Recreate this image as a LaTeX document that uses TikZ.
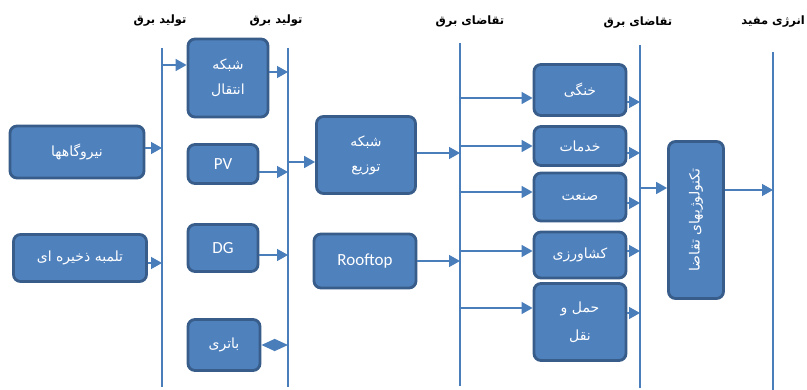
\documentclass[tikz,border=0pt]{standalone}
\usepackage{fontspec}
\setmainfont{Carlito}
\newfontfamily\fa[Script=Arabic]{DejaVu Sans}
\TeXXeTstate=1
\usetikzlibrary{arrows.meta}
\definecolor{boxfill}{HTML}{4F81BD}
\definecolor{boxline}{HTML}{385D8A}
\definecolor{wire}{HTML}{4A7EBB}
\newcommand{\RT}[1]{{\fa\beginR #1\endR}}
\begin{document}
\begin{tikzpicture}[x=1pt,y=-1pt,
  blk/.style={draw=boxline, line width=2.8pt, fill=boxfill, rounded corners=7pt,
    text=white, font=\fontsize{14}{25}\selectfont, align=center, inner sep=0pt},
  lat/.style={font=\fontsize{17}{20}\selectfont},
  wire/.style={draw=wire, line width=1.4pt},
  arr/.style={wire, -{Triangle[length=11pt,width=12pt]}},
  bidi/.style={wire, {Triangle[length=13.5pt,width=12pt]}-{Triangle[length=13.5pt,width=12pt]}},
  hdr/.style={font=\fontsize{11.5}{13}\selectfont\bfseries, text=black, inner sep=0pt}]
\clip (0,0) rectangle (807,390);
\fill[white] (0,0) rectangle (807,390);
% headers
\node[hdr] (h1) at (160,21) {\RT{تولید برق}};
\node[hdr] (h2) at (276,21) {\RT{تولید برق}};
\node[hdr] (h3) at (470,22) {\RT{تقاضای برق}};
\node[hdr] (h4) at (638,23) {\RT{تقاضای برق}};
\node[hdr, anchor=east] (h5) at (805,22) {\RT{انرژی مفید}};
% vertical lines
\coordinate (l1t) at (162,48); \coordinate (l1b) at (162,387);
\coordinate (l2t) at (288,48); \coordinate (l2b) at (288,387);
\coordinate (l3t) at (460,43); \coordinate (l3b) at (460,386);
\coordinate (l4t) at (640,45); \coordinate (l4b) at (640,388);
\coordinate (l5t) at (773,52); \coordinate (l5b) at (773,390);
\draw[wire] (l1t) -- (l1b);
\draw[wire] (l2t) -- (l2b);
\draw[wire] (l3t) -- (l3b);
\draw[wire] (l4t) -- (l4b);
\draw[wire] (l5t) -- (l5b);
% boxes
\node[blk, minimum width=134pt, minimum height=52pt] (nir) at (77,152) {\RT{نیروگاهها}};
\node[blk, minimum width=133pt, minimum height=47pt] (pump) at (80,258) {\RT{تلمبه ذخیره ای}};
\node[blk, minimum width=80pt, minimum height=78pt] (tr) at (228,78) {\RT{شبکه}\\\RT{انتقال}};
\node[blk, lat, minimum width=70pt, minimum height=39pt] (pv) at (223,164) {PV};
\node[blk, lat, minimum width=70pt, minimum height=47pt] (dg) at (223,248) {DG};
\node[blk, minimum width=72pt, minimum height=51pt] (bat) at (224,345) {\RT{باتری}};
\node[blk, minimum width=99pt, minimum height=77pt] (dist) at (366,155) {\RT{شبکه}\\\RT{توزیع}};
\node[blk, lat, minimum width=102pt, minimum height=54pt] (roof) at (365,261) {Rooftop};
\node[blk, minimum width=92pt, minimum height=51pt] (khn) at (580,90) {\RT{خنگی}};
\node[blk, minimum width=92pt, minimum height=39pt] (khd) at (580,146) {\RT{خدمات}};
\node[blk, minimum width=92pt, minimum height=48pt] (san) at (580,197) {\RT{صنعت}};
\node[blk, minimum width=92pt, minimum height=46pt] (kesh) at (580,255) {\RT{کشاورزی}};
\node[blk, minimum width=92pt, minimum height=77pt, font=\fontsize{14}{28}\selectfont] (haml) at (580,322) {\RT{حمل و}\\\RT{نقل}};
\node[blk, minimum width=55pt, minimum height=157pt] (tech) at (696,220) {};
\node[font=\fontsize{14}{16}\selectfont, text=white, rotate=90, inner sep=0pt] (techl) at (tech.center) {\RT{تکنولوژیهای تقاضا}};
% arrows
\draw[arr] ([yshift=13pt]tr.west -| l1t) -- ([yshift=13pt]tr.west);
\draw[arr] ([yshift=4pt]nir.east) -- ([yshift=4pt]nir.east -| l1t);
\draw[arr] ([yshift=-5pt]pump.east) -- ([yshift=-5pt]pump.east -| l1t);
\draw[arr] ([yshift=6pt]tr.east) -- ([yshift=6pt]tr.east -| l2t);
\draw[arr] ([yshift=-8pt]pv.east) -- ([yshift=-8pt]pv.east -| l2t);
\draw[arr] ([yshift=-7pt]dg.east) -- ([yshift=-7pt]dg.east -| l2t);
\draw[bidi] (bat.east) -- (bat.east -| l2t);
\draw[arr] ([yshift=-7pt]dist.west -| l2t) -- ([yshift=-7pt]dist.west);
\draw[arr] ([yshift=2pt]dist.east) -- ([yshift=2pt]dist.east -| l3t);
\draw[arr] (roof.east) -- (roof.east -| l3t);
\draw[arr] ([yshift=-8pt]khn.west -| l3t) -- ([yshift=-8pt]khn.west);
\draw[arr] (khd.west -| l3t) -- (khd.west);
\draw[arr] ([yshift=5pt]san.west -| l3t) -- ([yshift=5pt]san.west);
\draw[arr] ([yshift=4pt]kesh.west -| l3t) -- ([yshift=4pt]kesh.west);
\draw[arr] ([yshift=14pt]haml.west -| l3t) -- ([yshift=14pt]haml.west);
\draw[arr] ([yshift=-12pt]khn.east) -- ([yshift=-12pt]khn.east -| l4t);
\draw[arr] ([yshift=-7pt]khd.east) -- ([yshift=-7pt]khd.east -| l4t);
\draw[arr] ([yshift=-6pt]san.east) -- ([yshift=-6pt]san.east -| l4t);
\draw[arr] ([yshift=4pt]kesh.east) -- ([yshift=4pt]kesh.east -| l4t);
\draw[arr] ([yshift=9pt]haml.east) -- ([yshift=9pt]haml.east -| l4t);
\draw[arr] ([yshift=32pt]tech.west -| l4t) -- ([yshift=32pt]tech.west);
\draw[arr] ([yshift=30pt]tech.east) -- ([yshift=30pt]tech.east -| l5t);
\end{tikzpicture}
\end{document}
